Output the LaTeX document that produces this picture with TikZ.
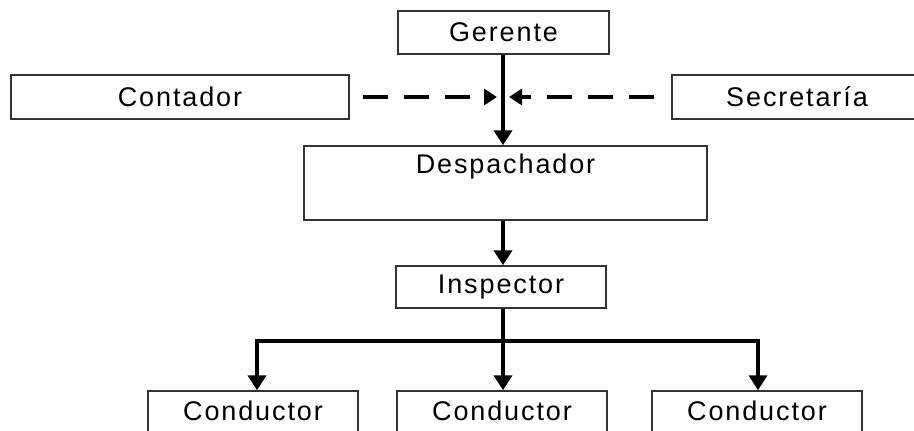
\documentclass[tikz,border=0pt]{standalone}
\usepackage{fontspec}
\setmainfont{Liberation Sans}[LetterSpace=7]
\usetikzlibrary{arrows.meta}
\begin{document}
\begin{tikzpicture}[x=1pt,y=-1pt,
  lbl/.style={font=\fontsize{27}{30}\selectfont},
  box/.style={draw=black!80,line width=1.5pt,fill=white,inner sep=0pt,lbl},
  solidarrow/.style={line width=4pt,-{Triangle[width=18pt,length=15pt]}},
  dasharrow/.style={line width=4pt,dash pattern=on 25pt off 16pt,-{Triangle[width=16pt,length=13pt]}}]
\clip (0,0) rectangle (914,431);
\fill[white] (0,0) rectangle (914,431);
\node[box,minimum width=211pt,minimum height=43pt] (ger) at (503.5,32.5) {Gerente};
\node[box,minimum width=338pt,minimum height=44pt] (cont) at (180,97) {Contador};
\node[box,minimum width=250pt,minimum height=44pt] (sec) at (797,97) {Secretaría};
\node[box,minimum width=403pt,minimum height=74pt] (desp) at (505.5,183) {};
\node[lbl] (desptxt) at (505.5,167) {Despachador};
\node[box,minimum width=210pt,minimum height=42pt] (insp) at (501,287) {Inspector};
\node[box,minimum width=210pt,minimum height=60pt] (c1) at (253,421) {};
\node[box,minimum width=210pt,minimum height=60pt] (c2) at (502,421) {};
\node[box,minimum width=210pt,minimum height=60pt] (c3) at (757,421) {};
\node[lbl] (c1t) at (253,411) {Conductor};
\node[lbl] (c2t) at (502,411) {Conductor};
\node[lbl] (c3t) at (757,411) {Conductor};
\coordinate (jl) at (497,97);
\coordinate (jr) at (509,97);
\coordinate (bar) at (503,341);
\draw[solidarrow] (ger.south -| 503,0) -- (desp.north -| 503,0);
\draw[dasharrow] ([xshift=13pt]cont.east) -- (jl);
\draw[dasharrow] ([xshift=-17pt]sec.west) -- (jr);
\draw[solidarrow] (desp.south -| 503,0) -- (insp.north -| 503,0);
\draw[line width=4pt] (insp.south -| 503,0) -- (bar);
\draw[line width=4pt] (255,341) -- (760,341);
\draw[solidarrow] (257,339) -- (c1.north -| 257,0);
\draw[solidarrow] (bar) -- (c2.north -| 503,0);
\draw[solidarrow] (758,339) -- (c3.north -| 758,0);
\end{tikzpicture}
\end{document}
